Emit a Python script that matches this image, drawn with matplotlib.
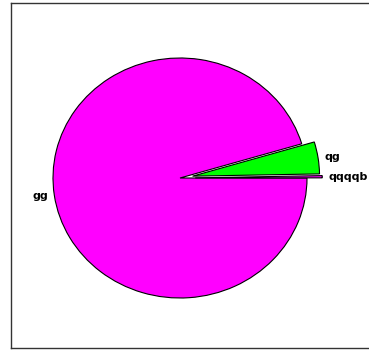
import matplotlib

matplotlib.use("Agg")

import matplotlib.pyplot as plt  # noqa: E402

labels = ["gg", "qg", "qqqqb"]
values = [95.4, 4.3, 0.3]
colors = ["#ff00ff", "#00ff00", "#ff00ff"]
explode = [0.0, 0.1, 0.12]

fig = plt.figure(figsize=(3.69, 3.5), dpi=100)
# axes frame: left edge at x=11px, top 3px, bottom 348px, right edge off-canvas
ax_w = 375
ax = fig.add_axes([11 / 369, 2 / 350, ax_w / 369, 345 / 350])

wedges, texts = ax.pie(
    values,
    labels=labels,
    colors=colors,
    explode=explode,
    startangle=0,
    counterclock=False,
    labeldistance=1.05,
    wedgeprops={"edgecolor": "black", "linewidth": 0.8},
    textprops={"fontsize": 8, "fontweight": "bold"},
    frame=True,
)
ax.set_aspect("auto")
ax.set_xlim(-169 / 127, -169 / 127 + ax_w / 127)
ax.set_ylim(175 / 120 - 345 / 120, 175 / 120)
ax.set_xticks([])
ax.set_yticks([])
for sp in ax.spines.values():
    sp.set_linewidth(1.0)
    sp.set_color("#333333")

fig.savefig("out.png", dpi=100)
plt.close(fig)
